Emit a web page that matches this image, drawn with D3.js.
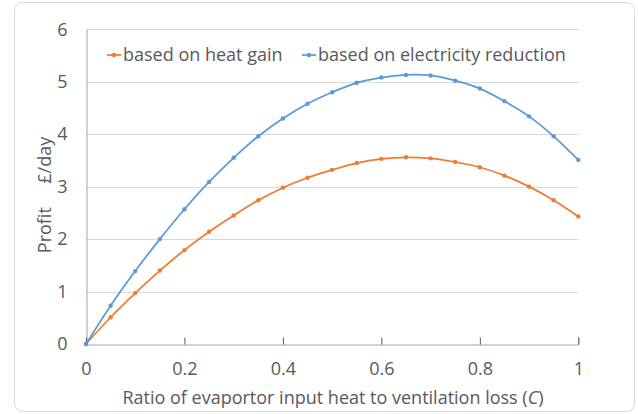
<!DOCTYPE html>
<html><head><meta charset="utf-8">
<script src="https://cdn.jsdelivr.net/npm/d3@7"></script>
<style>body{margin:0;background:#fff}svg{display:block}text{font-family:"Open Sans",Lato,sans-serif}</style>
</head><body><svg id="c" width="638" height="414"></svg>
<script>
const xValues = [0,0.05,0.1,0.15,0.2,0.25,0.3,0.35,0.4,0.45,0.5,0.55,0.6,0.65,0.7,0.75,0.8,0.85,0.9,0.95,1];
const heatGain = [0,0.51,0.97,1.40,1.79,2.14,2.45,2.74,2.98,3.17,3.32,3.45,3.53,3.56,3.54,3.47,3.37,3.21,3.00,2.74,2.43];
const elecReduction = [0,0.73,1.39,2.00,2.57,3.09,3.55,3.96,4.30,4.58,4.80,4.98,5.08,5.13,5.12,5.02,4.87,4.63,4.34,3.96,3.51];
const seriesNames = ["based on heat gain","based on electricity reduction"];
const xTicks = [0,0.2,0.4,0.6,0.8,1];
const yTicks = [0,1,2,3,4,5,6];
const colors = ["#ED7D31","#5B9BD5"];

const svg = d3.select("#c");
const textColor = "#595959";
const fs = 18;
svg.append("rect").attr("x",14.5).attr("y",2.5).attr("width",620).attr("height",409).attr("rx",8)
  .attr("fill","#fff").attr("stroke","#d9d9d9");

const x = d3.scaleLinear().domain([0,1]).range([86,578.3]);
const y = d3.scaleLinear().domain([0,6]).range([344,29.3]);

// gridlines
svg.append("g").selectAll("line").data(yTicks.filter(d=>d>0)).join("line")
  .attr("x1",x(0)).attr("x2",x(1)).attr("y1",d=>Math.round(y(d))+0.5).attr("y2",d=>Math.round(y(d))+0.5)
  .attr("stroke","#d9d9d9").attr("stroke-width",1);

// y axis
const yAxis = svg.append("g").attr("transform",`translate(${Math.round(x(0))+0.5},0)`)
  .call(d3.axisLeft(y).tickValues(yTicks).tickSize(0).tickPadding(19).tickFormat(d3.format("d")));
yAxis.select(".domain").attr("stroke","#a6a6a6");
yAxis.selectAll("text").attr("fill",textColor).attr("font-size",fs);

// x axis
const xAxis = svg.append("g").attr("transform",`translate(0,${Math.round(y(0))+0.5})`)
  .call(d3.axisBottom(x).tickValues(xTicks).tickSize(-7).tickPadding(18).tickFormat(d=>d===0||d===1?String(d):d3.format(".1f")(d)));
xAxis.select(".domain").attr("stroke","#a6a6a6");
xAxis.selectAll(".tick line").attr("stroke","#595959");
xAxis.selectAll("text").attr("fill",textColor).attr("font-size",fs);

// series
const seriesData = [heatGain, elecReduction];
const line = d3.line().x((d,i)=>x(xValues[i])).y(d=>y(d)).curve(d3.curveCatmullRom.alpha(0.5));
seriesData.forEach((vals,k)=>{
  svg.append("path").datum(vals).attr("d",line).attr("fill","none").attr("stroke",colors[k]).attr("stroke-width",1.75);
  svg.append("g").selectAll("circle").data(vals).join("circle")
    .attr("cx",(d,i)=>x(xValues[i])).attr("cy",d=>y(d)).attr("r",2.2).attr("fill",colors[k]);
});

// legend
const legendX = [107,302];
seriesNames.forEach((name,k)=>{
  const g = svg.append("g").attr("transform",`translate(${legendX[k]},55)`);
  g.append("line").attr("x1",0).attr("x2",14).attr("y1",0).attr("y2",0).attr("stroke",colors[k]).attr("stroke-width",1.75);
  g.append("circle").attr("cx",7).attr("cy",0).attr("r",2.2).attr("fill",colors[k]);
  g.append("text").attr("x",16).attr("y",0).attr("dy","0.35em").attr("fill",textColor).attr("font-size",fs).text(name);
});

// axis titles
svg.append("text").attr("transform",`translate(51,195) rotate(-90)`).attr("text-anchor","middle")
  .attr("fill",textColor).attr("font-size",fs).attr("xml:space","preserve").style("white-space","pre")
  .text("Profit     £/day");
const xt = svg.append("text").attr("x",333).attr("y",404).attr("text-anchor","middle").attr("fill",textColor).attr("font-size",fs);
xt.append("tspan").text("Ratio of evaportor input heat to ventilation loss (");
xt.append("tspan").attr("font-style","italic").text("C");
xt.append("tspan").text(")");
</script></body></html>
